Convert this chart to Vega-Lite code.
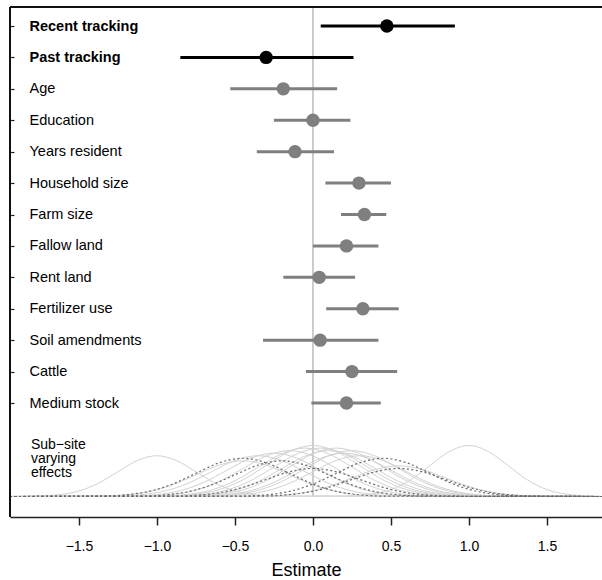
{
  "$schema": "https://vega.github.io/schema/vega-lite/v6.json",
  "width": 592,
  "height": 510,
  "autosize": "none",
  "padding": {"left": 10, "top": 7, "right": 0, "bottom": 63},
  "background": "white",
  "config": {"view": {"stroke": null}, "font": "Liberation Sans"},
  "datasets": {
    "rows": [
      {"label": "Recent tracking", "grp": "tracking", "est": 0.474, "lo": 0.05, "hi": 0.91},
      {"label": "Past tracking", "grp": "tracking", "est": -0.30, "lo": -0.85, "hi": 0.26},
      {"label": "Age", "grp": "covariate", "est": -0.19, "lo": -0.53, "hi": 0.155},
      {"label": "Education", "grp": "covariate", "est": 0.0, "lo": -0.25, "hi": 0.24},
      {"label": "Years resident", "grp": "covariate", "est": -0.115, "lo": -0.36, "hi": 0.135},
      {"label": "Household size", "grp": "covariate", "est": 0.295, "lo": 0.08, "hi": 0.5},
      {"label": "Farm size", "grp": "covariate", "est": 0.33, "lo": 0.18, "hi": 0.47},
      {"label": "Fallow land", "grp": "covariate", "est": 0.215, "lo": 0.0, "hi": 0.42},
      {"label": "Rent land", "grp": "covariate", "est": 0.04, "lo": -0.19, "hi": 0.27},
      {"label": "Fertilizer use", "grp": "covariate", "est": 0.32, "lo": 0.085, "hi": 0.55},
      {"label": "Soil amendments", "grp": "covariate", "est": 0.046, "lo": -0.32, "hi": 0.42},
      {"label": "Cattle", "grp": "covariate", "est": 0.25, "lo": -0.045, "hi": 0.54},
      {"label": "Medium stock", "grp": "covariate", "est": 0.215, "lo": -0.01, "hi": 0.435}
    ],
    "curves": [
      {"id": "s1", "t": "s", "x": [-1.942,-1.75,-1.625,-1.5,-1.375,-1.25,-1.125,-1,-0.875,-0.75,-0.625,-0.5,-0.375,-0.25,1.853], "d": [0,0.009,0.035,0.108,0.260,0.486,0.706,0.8,0.706,0.486,0.260,0.108,0.035,0.009,0]},
      {"id": "s2", "t": "s", "x": [-1.942,0.25,0.375,0.5,0.625,0.75,0.875,1,1.125,1.25,1.375,1.5,1.625,1.75,1.853], "d": [0,0.011,0.044,0.135,0.325,0.607,0.882,1,0.882,0.607,0.325,0.135,0.044,0.011,0]},
      {"id": "s3", "t": "s", "x": [-1.942,-1.25,-1.1,-0.95,-0.8,-0.65,-0.5,-0.35,-0.2,-0.05,0.1,0.25,0.4,0.55,1.853], "d": [0,0.009,0.035,0.108,0.260,0.486,0.706,0.8,0.706,0.486,0.260,0.108,0.035,0.009,0]},
      {"id": "s4", "t": "s", "x": [-1.942,-1.15,-1.0,-0.85,-0.7,-0.55,-0.4,-0.25,-0.1,0.05,0.2,0.35,0.5,0.65,1.853], "d": [0,0.009,0.037,0.115,0.276,0.516,0.750,0.85,0.750,0.516,0.276,0.115,0.037,0.009,0]},
      {"id": "s5", "t": "s", "x": [-1.942,-1.05,-0.9,-0.75,-0.6,-0.45,-0.3,-0.15,0,0.15,0.3,0.45,0.6,0.75,1.853], "d": [0,0.010,0.040,0.122,0.293,0.546,0.794,0.9,0.794,0.546,0.293,0.122,0.040,0.010,0]},
      {"id": "s6", "t": "s", "x": [-1.942,-0.95,-0.8,-0.65,-0.5,-0.35,-0.2,-0.05,0.1,0.25,0.4,0.55,0.7,0.85,1.853], "d": [0,0.010,0.042,0.128,0.309,0.577,0.838,0.95,0.838,0.577,0.309,0.128,0.042,0.010,0]},
      {"id": "s7", "t": "s", "x": [-1.942,-0.9,-0.75,-0.6,-0.45,-0.3,-0.15,0,0.15,0.3,0.45,0.6,0.75,0.9,1.853], "d": [0,0.011,0.044,0.135,0.325,0.607,0.882,1,0.882,0.607,0.325,0.135,0.044,0.011,0]},
      {"id": "s8", "t": "s", "x": [-1.942,-0.85,-0.7,-0.55,-0.4,-0.25,-0.1,0.05,0.2,0.35,0.5,0.65,0.8,0.95,1.853], "d": [0,0.010,0.042,0.128,0.309,0.577,0.838,0.95,0.838,0.577,0.309,0.128,0.042,0.010,0]},
      {"id": "s9", "t": "s", "x": [-1.942,-0.8,-0.65,-0.5,-0.35,-0.2,-0.05,0.1,0.25,0.4,0.55,0.7,0.85,1.0,1.853], "d": [0,0.010,0.040,0.122,0.293,0.546,0.794,0.9,0.794,0.546,0.293,0.122,0.040,0.010,0]},
      {"id": "s10", "t": "s", "x": [-1.942,-0.75,-0.6,-0.45,-0.3,-0.15,0,0.15,0.3,0.45,0.6,0.75,0.9,1.05,1.853], "d": [0,0.010,0.042,0.128,0.309,0.577,0.838,0.95,0.838,0.577,0.309,0.128,0.042,0.010,0]},
      {"id": "s11", "t": "s", "x": [-1.942,-0.7,-0.55,-0.4,-0.25,-0.1,0.05,0.2,0.35,0.5,0.65,0.8,0.95,1.1,1.853], "d": [0,0.009,0.037,0.115,0.276,0.516,0.750,0.85,0.750,0.516,0.276,0.115,0.037,0.009,0]},
      {"id": "s12", "t": "s", "x": [-1.942,-0.6,-0.45,-0.3,-0.15,0,0.15,0.3,0.45,0.6,0.75,0.9,1.05,1.2,1.853], "d": [0,0.009,0.035,0.108,0.260,0.486,0.706,0.8,0.706,0.486,0.260,0.108,0.035,0.009,0]},
      {"id": "s13", "t": "s", "x": [-1.942,-0.35,-0.2,-0.05,0.1,0.25,0.4,0.55,0.7,0.85,1.0,1.15,1.3,1.45,1.853], "d": [0,0.007,0.026,0.081,0.195,0.364,0.529,0.6,0.529,0.364,0.195,0.081,0.026,0.007,0]},
      {"id": "s14", "t": "s", "x": [-1.942,-1.35,-1.2,-1.05,-0.9,-0.75,-0.6,-0.45,-0.3,-0.15,0,0.15,0.3,0.45,1.853], "d": [0,0.008,0.031,0.095,0.228,0.425,0.617,0.7,0.617,0.425,0.228,0.095,0.031,0.008,0]},
      {"id": "s15", "t": "s", "x": [-1.942,-0.65,-0.5,-0.35,-0.2,-0.05,0.1,0.25,0.4,0.55,0.7,0.85,1.0,1.15,1.853], "d": [0,0.010,0.040,0.122,0.293,0.546,0.794,0.9,0.794,0.546,0.293,0.122,0.040,0.010,0]},
      {"id": "d1", "t": "d", "x": [-1.942,-1.35,-1.2,-1.05,-0.9,-0.75,-0.6,-0.45,-0.3,-0.15,0,0.15,0.3,0.45,1.853], "d": [0,0.008,0.033,0.101,0.244,0.455,0.662,0.75,0.662,0.455,0.244,0.101,0.033,0.008,0]},
      {"id": "d2", "t": "d", "x": [-1.942,-1.1,-0.95,-0.8,-0.65,-0.5,-0.35,-0.2,-0.05,0.1,0.25,0.4,0.55,0.7,1.853], "d": [0,0.008,0.031,0.095,0.228,0.425,0.617,0.7,0.617,0.425,0.228,0.095,0.031,0.008,0]},
      {"id": "d3", "t": "d", "x": [-1.942,-0.9,-0.75,-0.6,-0.45,-0.3,-0.15,0,0.15,0.3,0.45,0.6,0.75,0.9,1.853], "d": [0,0.006,0.024,0.074,0.179,0.334,0.485,0.55,0.485,0.334,0.179,0.074,0.024,0.006,0]},
      {"id": "d4", "t": "d", "x": [-1.942,-0.45,-0.3,-0.15,0,0.15,0.3,0.45,0.6,0.75,0.9,1.05,1.2,1.35,1.853], "d": [0,0.008,0.033,0.101,0.244,0.455,0.662,0.75,0.662,0.455,0.244,0.101,0.033,0.008,0]},
      {"id": "d5", "t": "d", "x": [-1.942,-0.35,-0.2,-0.05,0.1,0.25,0.4,0.55,0.7,0.85,1.0,1.15,1.3,1.45,1.853], "d": [0,0.006,0.024,0.074,0.179,0.334,0.485,0.55,0.485,0.334,0.179,0.074,0.024,0.006,0]}
    ]
  },
  "layer": [
    {
      "layer": [
        {
          "data": {"values": [{}]},
          "mark": {"type": "rule", "color": "#bdbdbd", "strokeWidth": 1.5},
          "encoding": {
            "x": {"datum": 0, "type": "quantitative", "scale": {"domain": [-1.942, 1.853], "nice": false, "zero": false},
              "axis": {"values": [-1.5, -1, -0.5, 0, 0.5, 1, 1.5], "format": ".1f", "grid": false, "labelFontSize": 14, "labelFont": "Liberation Sans", "labelColor": "#000", "labelPadding": 14, "tickSize": 8, "tickColor": "#222", "tickWidth": 1.5, "domainColor": "#222", "domainWidth": 1.5, "labelFlush": false, "title": "Estimate", "titleFontSize": 18, "titleFont": "Liberation Sans", "titleFontWeight": "normal", "titleColor": "#000", "titlePadding": 8}},
            "y": {"datum": 0, "type": "quantitative", "scale": {"domain": [-0.402, 9.598], "nice": false, "zero": false}, "axis": null},
            "y2": {"datum": 9.598}
          }
        },
        {
          "data": {"name": "curves"},
          "transform": [{"filter": "datum.t == 's'"}, {"flatten": ["x", "d"]}],
          "mark": {"type": "line", "color": "#d2d2d2", "strokeWidth": 1, "interpolate": "monotone"},
          "encoding": {
            "x": {"field": "x", "type": "quantitative"},
            "y": {"field": "d", "type": "quantitative"},
            "detail": {"field": "id"}
          }
        },
        {
          "data": {"name": "curves"},
          "transform": [{"filter": "datum.t == 'd'"}, {"flatten": ["x", "d"]}],
          "mark": {"type": "line", "color": "#6a6a6a", "strokeWidth": 1.2, "strokeDash": [2, 2.5], "interpolate": "monotone"},
          "encoding": {
            "x": {"field": "x", "type": "quantitative"},
            "y": {"field": "d", "type": "quantitative"},
            "detail": {"field": "id"}
          }
        },
        {
          "data": {"values": [{"note": "Sub−site\nvarying\neffects"}]},
          "mark": {"type": "text", "align": "left", "baseline": "middle", "fontSize": 14, "font": "Liberation Sans", "lineBreak": "\n", "lineHeight": 14, "color": "#000"},
          "encoding": {
            "x": {"datum": -1.808, "type": "quantitative"},
            "y": {"datum": 1.0, "type": "quantitative"},
            "text": {"field": "note"}
          }
        },
        {
          "data": {"values": [{}]},
          "mark": {"type": "rule", "color": "#111", "strokeWidth": 2},
          "encoding": {
            "y": {"datum": 9.598, "type": "quantitative"}
          }
        },
        {
          "data": {"values": [{}]},
          "mark": {"type": "rule", "color": "#111", "strokeWidth": 2},
          "encoding": {
            "x": {"datum": -1.942, "type": "quantitative"}
          }
        }
      ]
    },
    {
      "data": {"name": "rows"},
      "encoding": {
        "y": {"field": "label", "type": "nominal", "sort": null, "title": null,
          "scale": {"type": "point", "range": [19, 396], "padding": 0},
          "axis": {"orient": "left", "domain": false, "ticks": true, "tickSize": -4, "tickColor": "#222", "tickWidth": 1.2, "labelAlign": "left", "labelPadding": -15, "labelFontSize": 14.5, "labelFont": "Liberation Sans", "labelColor": "#000",
            "labelFontWeight": {"condition": {"test": "datum.value == 'Recent tracking' || datum.value == 'Past tracking'", "value": "bold"}, "value": "normal"}}},
        "color": {"field": "grp", "type": "nominal", "scale": {"domain": ["tracking", "covariate"], "range": ["#000000", "#7f7f7f"]}, "legend": null}
      },
      "layer": [
        {
          "mark": {"type": "rule", "strokeWidth": 3},
          "encoding": {
            "x": {"field": "lo", "type": "quantitative"},
            "x2": {"field": "hi"}
          }
        },
        {
          "mark": {"type": "circle", "size": 180, "opacity": 1},
          "encoding": {
            "x": {"field": "est", "type": "quantitative"}
          }
        }
      ]
    }
  ],
  "resolve": {"scale": {"y": "independent"}}
}
